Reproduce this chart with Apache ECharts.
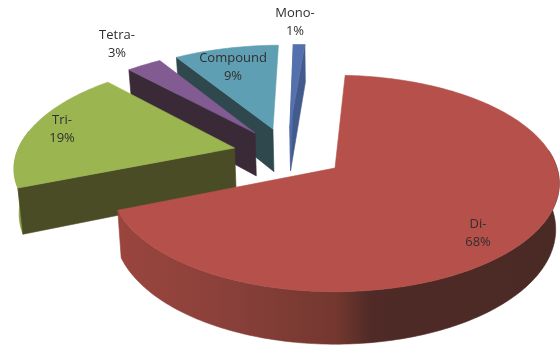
<!DOCTYPE html>
<html>
<head>
<meta charset="utf-8">
<style>html,body{margin:0;padding:0;background:#fff}#c{width:560px;height:345px}</style>
<script src="https://cdn.jsdelivr.net/npm/echarts@6/dist/echarts.min.js"></script>
</head>
<body>
<div id="c"></div>
<script>
var categories = ['Mono-', 'Di-', 'Tri-', 'Tetra-', 'Compound'];
var percents = [1, 68, 19, 3, 9];
var topColors = ['#5470ad', '#b5504a', '#9bb550', '#815b91', '#5f9fb3'];
var wallColors = ['#48639b', '#7a3a34', '#86a03f', '#3a2a38', '#2f484d'];
var cutColors = ['#4f6ca8', null, '#4a4c26', '#3a2a38', '#2f484d'];
var farCutColors = ['#435a8c', null, null, null, null];
var paintOrder = [0, 4, 3, 2, 1];

// projection layout (3D pie seen in perspective)
var P = {cx: 335, cy: 168, rx: 222, ry: 106, k: 1 / 7, depth: 45, shrink: 0.016, startDeg: -0.6, wallFrom: 80, wallTo: 280};
var explodeX = [-0.215, 0, -0.465, -0.378, -0.295];
var explodeY = [0.398, 0, 0.194, 0.346, 0.388];
var labelX = [295, 478, 62, 117, 233];
var labelY = [22, 233, 129, 44, 67];

var total = percents.reduce(function (a, b) { return a + b; }, 0);
var starts = [];
percents.reduce(function (acc, v, i) { starts[i] = acc; return acc + v / total * 360; }, P.startDeg);

function project(X, Y, h) {
  var w = 1 + P.k * Y;
  var s = 1 - P.shrink * h;
  return [P.cx + P.rx * X / w * s, P.cy - P.ry * Y / w + h * P.depth / w];
}
function rim(i, deg, h) {
  var a = deg * Math.PI / 180;
  return project(explodeX[i] + Math.sin(a), explodeY[i] + Math.cos(a), h);
}
function arc(i, from, to, h) {
  var pts = [], n = Math.max(2, Math.ceil(Math.abs(to - from)));
  for (var j = 0; j <= n; j++) pts.push(rim(i, from + (to - from) * j / n, h));
  return pts;
}
function poly(points, fill) {
  return {type: 'polygon', shape: {points: points}, style: {fill: fill, stroke: fill, lineWidth: 0.6}};
}
var diWall = {
  type: 'linear', x: 118, y: 0, x2: 556, y2: 0, global: true,
  colorStops: [
    {offset: 0, color: '#9a453e'},
    {offset: 0.25, color: '#8a403a'},
    {offset: 0.5, color: '#73372f'},
    {offset: 0.58, color: '#4f2a26'},
    {offset: 1, color: '#4a2a25'}
  ]
};

function renderSlice(params, api) {
  var i = api.value(0);
  var from = starts[i], to = from + api.value(1) / total * 360;
  var apexT = project(explodeX[i], explodeY[i], 0);
  var apexB = project(explodeX[i], explodeY[i], 1);
  var topArc = arc(i, from, to, 0);
  var kids = [];
  var wa = Math.max(from, P.wallFrom), wb = Math.min(to, P.wallTo);
  if (wb > wa) {
    kids.push(poly(arc(i, wa, wb, 0).concat(arc(i, wa, wb, 1).reverse()), i === 1 ? diWall : wallColors[i]));
  }
  if (farCutColors[i]) kids.push(poly([apexT, apexB, rim(i, to, 1), rim(i, to, 0)], farCutColors[i]));
  if (cutColors[i]) kids.push(poly([apexT, apexB, rim(i, from, 1), rim(i, from, 0)], cutColors[i]));
  kids.push(poly([apexT].concat(topArc), topColors[i]));
  kids.push({
    type: 'text',
    style: {
      text: categories[i] + '\n' + percents[i] + '%',
      x: labelX[i], y: labelY[i],
      align: 'center', verticalAlign: 'middle',
      font: '13px "Open Sans"', lineHeight: 18, fill: '#332e2e'
    }
  });
  return {type: 'group', children: kids};
}

var chart = echarts.init(document.getElementById('c'), null, {renderer: 'canvas'});
chart.setOption({
  animation: false,
  backgroundColor: '#ffffff',
  series: [{
    type: 'custom',
    coordinateSystem: 'none',
    silent: true,
    renderItem: renderSlice,
    data: paintOrder.map(function (i) { return [i, percents[i]]; })
  }]
});
</script>
</body>
</html>
